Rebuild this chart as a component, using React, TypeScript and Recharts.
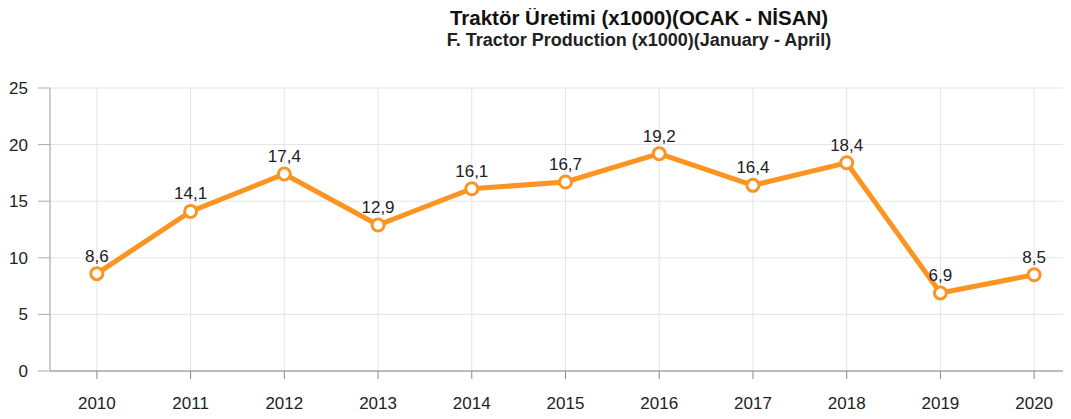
import { LineChart, Line, XAxis, YAxis, CartesianGrid, LabelList } from "recharts";

const years = [2010, 2011, 2012, 2013, 2014, 2015, 2016, 2017, 2018, 2019, 2020];
const production = [8.6, 14.1, 17.4, 12.9, 16.1, 16.7, 19.2, 16.4, 18.4, 6.9, 8.5];
const yTicks = [0, 5, 10, 15, 20, 25];

const data = years.map((year, i) => ({ year, value: production[i] }));

const font = "'Liberation Sans', Arial, sans-serif";

export default function App() {
  return (
    <div style={{ margin: -8, width: 1071, height: 419, overflow: "hidden", position: "relative", background: "#fff", fontFamily: font }}>
      <LineChart width={1085} height={419} data={data} margin={{ top: 88, right: 4, left: 0, bottom: 0 }}>
        <CartesianGrid stroke="#e4e4e4" />
        <XAxis
          dataKey="year"
          type="number"
          domain={[2009.5, 2020.5]}
          ticks={years}
          height={48}
          tickSize={8}
          tickMargin={18}
          stroke="#888"
          tick={{ fill: "#222", fontSize: 17, fontFamily: font }}
        />
        <YAxis
          domain={[0, 25]}
          ticks={yTicks}
          width={50}
          tickSize={12}
          tickMargin={10}
          stroke="#aaa"
          tick={{ fill: "#222", fontSize: 17, fontFamily: font }}
        />
        <Line
          dataKey="value"
          stroke="#fb9420"
          strokeWidth={5}
          dot={{ r: 6, fill: "#fff", stroke: "#fb9420", strokeWidth: 3 }}
          isAnimationActive={false}
        >
          <LabelList
            dataKey="value"
            position="top"
            offset={12}
            fill="#222"
            fontSize={17}
            fontFamily={font}
            formatter={(v: any) => String(v).replace(".", ",")}
          />
        </Line>
      </LineChart>
      <div style={{ position: "absolute", zIndex: 2, left: 0, width: 1278, top: 6, textAlign: "center", color: "#111" }}>
        <div style={{ fontSize: 20.5, fontWeight: "bold", lineHeight: "24px" }}>Traktör Üretimi (x1000)(OCAK - NİSAN)</div>
        <div style={{ fontSize: 18, fontWeight: "bold", lineHeight: "20px", color: "#222" }}>F. Tractor Production (x1000)(January - April)</div>
      </div>
    </div>
  );
}
